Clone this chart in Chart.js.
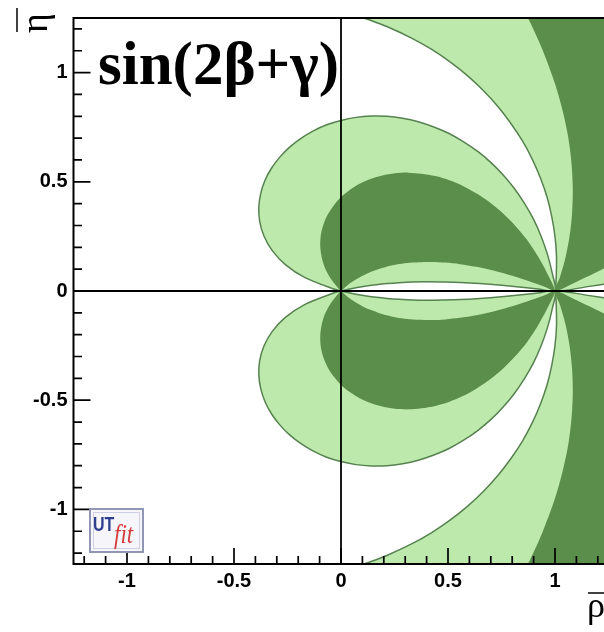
<!DOCTYPE html>
<html><head><meta charset="utf-8">
<script src="https://cdn.jsdelivr.net/npm/chart.js@4.4.0/dist/chart.umd.min.js"></script>
<style>html,body{margin:0;padding:0;background:#fff;overflow:hidden;width:604px;height:632px}canvas{display:block}</style>
</head><body><canvas id="c" width="610" height="632"></canvas>
<script>
// ---- axis ticks ----
const xTickValues = [-1, -0.5, 0, 0.5, 1];
const xTickLabels = ['-1', '-0.5', '0', '0.5', '1'];
const yTickValues = [-1, -0.5, 0, 0.5, 1];
const yTickLabels = ['-1', '-0.5', '0', '0.5', '1'];
const xMinorTicks = [-1.2,-1.1,-0.9,-0.8,-0.7,-0.6,-0.4,-0.3,-0.2,-0.1,0.1,0.2,0.3,0.4,0.6,0.7,0.8,0.9,1.1,1.2];
const yMinorTicks = [-1.2,-1.1,-0.9,-0.8,-0.7,-0.6,-0.4,-0.3,-0.2,-0.1,0.1,0.2,0.3,0.4,0.6,0.7,0.8,0.9,1.1,1.2];

// ---- constraint regions (rho, eta) ----
// 95% probability region, upper lobe
const light95UpperLobe = [[0,0],[-0.034,0.009],[-0.168,0.061],[-0.260,0.121],[-0.322,0.186],[-0.360,0.252],[-0.380,0.319],[-0.384,0.384],[-0.375,0.447],[-0.355,0.507],[-0.325,0.562],[-0.286,0.613],[-0.240,0.659],[-0.187,0.699],[-0.129,0.733],[-0.067,0.761],[0,0.781],[0.070,0.795],[0.141,0.801],[0.214,0.800],[0.288,0.791],[0.361,0.775],[0.434,0.751],[0.505,0.721],[0.573,0.683],[0.639,0.639],[0.701,0.588],[0.758,0.531],[0.811,0.468],[0.858,0.400],[0.900,0.328],[0.935,0.251],[0.964,0.170],[0.986,0.086],[1,0],[0.931,0.008],[0.867,0.015],[0.751,0.026],[0.648,0.034],[0.556,0.039],[0.474,0.041],[0.400,0.042],[0.333,0.041],[0.272,0.038],[0.216,0.034],[0.165,0.029],[0.119,0.023],[0.076,0.016],[0.036,0.008],[0,0]];
// 95% probability region, lower lobe
const light95LowerLobe = [[0,0],[-0.034,-0.009],[-0.168,-0.061],[-0.260,-0.121],[-0.322,-0.186],[-0.360,-0.252],[-0.380,-0.319],[-0.384,-0.384],[-0.375,-0.447],[-0.355,-0.507],[-0.325,-0.562],[-0.286,-0.613],[-0.240,-0.659],[-0.187,-0.699],[-0.129,-0.733],[-0.067,-0.761],[0,-0.781],[0.070,-0.795],[0.141,-0.801],[0.214,-0.800],[0.288,-0.791],[0.361,-0.775],[0.434,-0.751],[0.505,-0.721],[0.573,-0.683],[0.639,-0.639],[0.701,-0.588],[0.758,-0.531],[0.811,-0.468],[0.858,-0.400],[0.900,-0.328],[0.935,-0.251],[0.964,-0.170],[0.986,-0.086],[1,0],[0.931,-0.008],[0.867,-0.015],[0.751,-0.026],[0.648,-0.034],[0.556,-0.039],[0.474,-0.041],[0.400,-0.042],[0.333,-0.041],[0.272,-0.038],[0.216,-0.034],[0.165,-0.029],[0.119,-0.023],[0.076,-0.016],[0.036,-0.008],[0,0]];
// 68% probability region, upper lobe
const dark68UpperLobe = [[0,0],[-0.013,0.013],[-0.050,0.060],[-0.076,0.108],[-0.091,0.158],[-0.097,0.208],[-0.094,0.258],[-0.082,0.305],[-0.062,0.350],[-0.034,0.392],[0,0.430],[0.041,0.463],[0.087,0.491],[0.138,0.513],[0.193,0.529],[0.251,0.539],[0.313,0.542],[0.376,0.537],[0.441,0.526],[0.507,0.507],[0.572,0.480],[0.636,0.445],[0.699,0.403],[0.759,0.354],[0.816,0.297],[0.870,0.233],[0.918,0.162],[0.962,0.084],[1,0],[0.957,0.017],[0.895,0.039],[0.800,0.070],[0.712,0.094],[0.631,0.111],[0.556,0.123],[0.487,0.130],[0.423,0.133],[0.364,0.132],[0.309,0.128],[0.259,0.121],[0.213,0.111],[0.170,0.098],[0.131,0.084],[0.096,0.067],[0.064,0.049],[0.035,0.030],[0,0]];
// 68% probability region, lower lobe
const dark68LowerLobe = [[0,0],[-0.013,-0.013],[-0.050,-0.060],[-0.076,-0.108],[-0.091,-0.158],[-0.097,-0.208],[-0.094,-0.258],[-0.082,-0.305],[-0.062,-0.350],[-0.034,-0.392],[0,-0.430],[0.041,-0.463],[0.087,-0.491],[0.138,-0.513],[0.193,-0.529],[0.251,-0.539],[0.313,-0.542],[0.376,-0.537],[0.441,-0.526],[0.507,-0.507],[0.572,-0.480],[0.636,-0.445],[0.699,-0.403],[0.759,-0.354],[0.816,-0.297],[0.870,-0.233],[0.918,-0.162],[0.962,-0.084],[1,0],[0.957,-0.017],[0.895,-0.039],[0.800,-0.070],[0.712,-0.094],[0.631,-0.111],[0.556,-0.123],[0.487,-0.130],[0.423,-0.133],[0.364,-0.132],[0.309,-0.128],[0.259,-0.121],[0.213,-0.111],[0.170,-0.098],[0.131,-0.084],[0.096,-0.067],[0.064,-0.049],[0.035,-0.030],[0,0]];
// 95% region, upper right fan
const light95UpperFan = [[0.000,1.280],[0.088,1.256],[0.131,1.242],[0.214,1.211],[0.332,1.157],[0.424,1.106],[0.511,1.048],[0.592,0.985],[0.666,0.917],[0.734,0.844],[0.794,0.767],[0.848,0.687],[0.894,0.603],[0.932,0.517],[0.963,0.429],[0.985,0.339],[1.000,0.249],[1.007,0.160],[1.006,0.070],[1.004,0.035],[1,0],[1.153,0.020],[1.256,0.035],[1.331,0.047],[1.791,0.125],[1.9,1.6],[0,1.6]];
// 95% region, lower right fan
const light95LowerFan = [[0.000,-1.280],[0.088,-1.256],[0.131,-1.242],[0.214,-1.211],[0.332,-1.157],[0.424,-1.106],[0.511,-1.048],[0.592,-0.985],[0.666,-0.917],[0.734,-0.844],[0.794,-0.767],[0.848,-0.687],[0.894,-0.603],[0.932,-0.517],[0.963,-0.429],[0.985,-0.339],[1.000,-0.249],[1.007,-0.160],[1.006,-0.070],[1.004,-0.035],[1,0],[1.153,-0.020],[1.256,-0.035],[1.331,-0.047],[1.791,-0.125],[1.9,-1.6],[0,-1.6]];
// 68% region, upper right fan
const dark68UpperFan = [[0.807,1.371],[0.867,1.262],[0.894,1.209],[0.942,1.103],[1.000,0.949],[1.036,0.824],[1.062,0.703],[1.077,0.585],[1.083,0.471],[1.080,0.361],[1.069,0.257],[1.050,0.157],[1.023,0.063],[1,0],[1.115,0.049],[1.215,0.096],[1.323,0.151],[1.442,0.216],[1.6,1.5],[0.8,1.5]];
// 68% region, lower right fan
const dark68LowerFan = [[0.807,-1.371],[0.867,-1.262],[0.894,-1.209],[0.942,-1.103],[1.000,-0.949],[1.036,-0.824],[1.062,-0.703],[1.077,-0.585],[1.083,-0.471],[1.080,-0.361],[1.069,-0.257],[1.050,-0.157],[1.023,-0.063],[1,0],[1.115,-0.049],[1.215,-0.096],[1.323,-0.151],[1.442,-0.216],[1.6,-1.5],[0.8,-1.5]];

const LIGHT = '#bee9ad', DARK = '#5b8e4a', EDGE = '#568250';
const toXY = a => a.map(p => ({x: p[0], y: p[1]}));
const region = (pts, dark) => ({
  data: toXY(pts), fill: 'shape', backgroundColor: dark ? DARK : LIGHT,
  borderColor: dark ? 'rgba(0,0,0,0)' : EDGE, borderWidth: dark ? 0 : 1.5,
  pointRadius: 0, tension: 0.3
});

const overlay = {
  id: 'overlay',
  afterDatasetsDraw(chart) {
    const {ctx, chartArea: a, scales: {x, y}} = chart;
    ctx.save();
    ctx.strokeStyle = '#000';
    ctx.lineWidth = 1.8;
    const x0 = x.getPixelForValue(0), y0 = y.getPixelForValue(0);
    ctx.beginPath();
    ctx.moveTo(x0, a.top); ctx.lineTo(x0, a.bottom);
    ctx.moveTo(a.left, y0); ctx.lineTo(a.right, y0);
    ctx.stroke();
    ctx.lineWidth = 2;
    ctx.beginPath();
    ctx.moveTo(a.right, a.top); ctx.lineTo(a.left, a.top); ctx.lineTo(a.left, a.bottom); ctx.lineTo(a.right, a.bottom);
    ctx.stroke();
    ctx.lineWidth = 1.7;
    ctx.beginPath();
    xTickValues.forEach(v => { const p = x.getPixelForValue(v); ctx.moveTo(p, a.bottom); ctx.lineTo(p, a.bottom - 16); });
    xMinorTicks.forEach(v => { const p = x.getPixelForValue(v); ctx.moveTo(p, a.bottom); ctx.lineTo(p, a.bottom - 8); });
    yTickValues.forEach(v => { const p = y.getPixelForValue(v); ctx.moveTo(a.left, p); ctx.lineTo(a.left + 17, p); });
    yMinorTicks.forEach(v => { const p = y.getPixelForValue(v); ctx.moveTo(a.left, p); ctx.lineTo(a.left + 8.5, p); });
    ctx.stroke();
    ctx.restore();
  },
  afterDraw(chart) {
    const ctx = chart.ctx;
    ctx.save();
    ctx.fillStyle = '#000';
    ctx.textAlign = 'left';
    ctx.textBaseline = 'alphabetic';
    // title
    ctx.font = 'bold 61px "Liberation Serif"';
    ctx.fillText('sin(2β+γ)', 98, 84);
    // x title
    ctx.font = '36px "Liberation Serif"';
    ctx.fillText('ρ', 587, 617);
    ctx.lineWidth = 1.5; ctx.strokeStyle = '#000';
    ctx.beginPath(); ctx.moveTo(588, 593); ctx.lineTo(612, 593); ctx.stroke();
    // y title (rotated)
    ctx.save();
    ctx.translate(47, 33); ctx.rotate(-Math.PI / 2);
    ctx.font = '38px "Liberation Serif"';
    ctx.fillText('η', 0, 0);
    ctx.restore();
    ctx.beginPath(); ctx.moveTo(17, 8); ctx.lineTo(17, 32); ctx.stroke();
    // UTfit logo
    ctx.fillStyle = '#f6f6fa';
    ctx.fillRect(90, 509, 53, 43);
    ctx.strokeStyle = '#9096b4'; ctx.lineWidth = 2;
    ctx.strokeRect(90, 509, 53, 43);
    ctx.strokeStyle = '#cdd0e2'; ctx.lineWidth = 1;
    ctx.strokeRect(93.5, 512.5, 46, 36);
    ctx.save();
    ctx.fillStyle = '#2f3d8e';
    ctx.translate(93, 531); ctx.scale(1, 1.3);
    ctx.font = 'bold 16px "Liberation Sans"';
    ctx.fillText('UT', 0, 0);
    ctx.restore();
    ctx.save();
    ctx.fillStyle = '#d43c3c';
    ctx.translate(114, 543); ctx.scale(1, 1.2);
    ctx.font = 'italic 23px "Liberation Serif"';
    ctx.fillText('fit', 0, 0);
    ctx.restore();
    ctx.restore();
  }
};

const tickFont = {family: 'Liberation Sans', size: 20, weight: 'bold'};
new Chart(document.getElementById('c'), {
  type: 'line',
  data: {
    datasets: [
      region(dark68UpperLobe, true), region(dark68LowerLobe, true),
      region(dark68UpperFan, true), region(dark68LowerFan, true),
      region(light95UpperLobe, false), region(light95LowerLobe, false),
      region(light95UpperFan, false), region(light95LowerFan, false)
    ]
  },
  options: {
    responsive: false, animation: false, devicePixelRatio: 1,
    layout: {padding: {top: 12, right: 1.5, left: 0, bottom: 0}},
    elements: {line: {capBezierPoints: false}, point: {radius: 0}},
    plugins: {legend: {display: false}, tooltip: {enabled: false}},
    scales: {
      x: {
        type: 'linear', min: -1.25, max: 1.25,
        afterBuildTicks: s => { s.ticks = xTickValues.map(v => ({value: v})); },
        afterFit: s => { s.height = 68; },
        grid: {display: false, drawTicks: false}, border: {display: false},
        ticks: {font: tickFont, color: '#000', padding: 5, maxRotation: 0, autoSkip: false,
          callback: (v) => xTickLabels[xTickValues.indexOf(v)]}
      },
      y: {
        type: 'linear', min: -1.25, max: 1.25,
        afterBuildTicks: s => { s.ticks = yTickValues.map(v => ({value: v})); },
        afterFit: s => { s.width = 73.5; },
        grid: {display: false, drawTicks: false}, border: {display: false},
        ticks: {font: tickFont, color: '#000', padding: 6, autoSkip: false,
          callback: (v) => yTickLabels[yTickValues.indexOf(v)]}
      }
    }
  },
  plugins: [overlay]
});
</script></body></html>
